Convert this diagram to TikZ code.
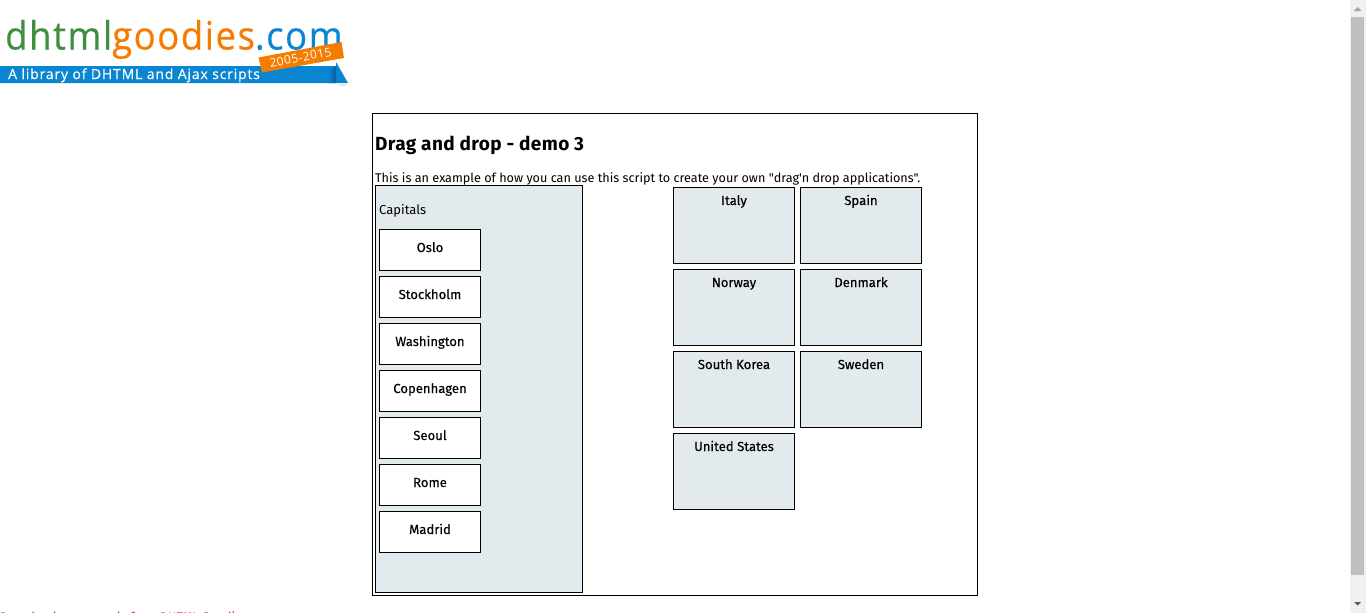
\documentclass[tikz,border=0pt]{standalone}
\usepackage{fontspec}
\setmainfont{Fira Sans}[Ligatures=TeXOff]
\newfontfamily\logofont{Open Sans}
\definecolor{panel}{HTML}{E2EAED}
\definecolor{lgreen}{HTML}{3F8F3F}
\definecolor{lorange}{HTML}{F57C00}
\definecolor{lblue}{HTML}{0A85D1}
\tikzset{x=1pt,y=-1pt,
 box/.style={draw=black,line width=1pt,anchor=north west,inner sep=0pt,outer sep=0pt},
 capbox/.style={box,fill=white,minimum width=101pt,minimum height=41pt},
 countrybox/.style={box,fill=panel,minimum width=121pt,minimum height=76pt},
 txt/.style={font=\fontsize{12.65}{15}\selectfont,text=black,inner sep=0pt},
 boldtxt/.style={txt,anchor=base,font=\fontsize{13.1}{15}\selectfont\addfontfeature{FakeBold=0.25}},
}
\begin{document}
\begin{tikzpicture}
\useasboundingbox (0,0) rectangle (1366,613);
\fill[white] (0,0) rectangle (1366,613);
% scrollbar
\fill[black!6] (1350,0) rectangle (1366,613);
\fill[black!25] (1351,17) rectangle (1364,575);
\fill[black!35] (1353.5,11) -- (1357.5,7) -- (1361.5,11) -- cycle;
\fill[black!65] (1354,602) -- (1361,602) -- (1357.5,605.5) -- cycle;
% logo
\node[anchor=base west,inner sep=0pt,font=\logofont\fontsize{39}{40}\selectfont\addfontfeature{LetterSpace=4,FakeStretch=0.935,FakeBold=0.5}] (logoa) at (5,49.5) {\textcolor{lgreen}{dhtml}\textcolor{lorange}{goodies}\textcolor{lblue}{.com}};
\fill[lblue] (0,66) -- (336,66) -- (336,62) -- (348,83) -- (0,83) -- cycle;
\shade[left color=lblue,right color=black!30!lblue] (328,72) -- (336,66) -- (336,83) -- (328,83) -- cycle;
\fill[black!8] (336,83) -- (348,83) -- (346,86) -- (338,86) -- cycle;
\fill[lorange] (258.5,57.5) -- (341.5,42) -- (344,58) -- (262,72.5) -- cycle;
\node[anchor=base west,inner sep=0pt,text=white,font=\logofont\fontsize{14}{15}\selectfont\addfontfeature{LetterSpace=5.8,FakeBold=0.4}] (logob) at (8,79) {A library of DHTML and Ajax scripts};
\node[anchor=center,inner sep=0pt,text=white,rotate=10.5,font=\logofont\fontsize{12}{14}\selectfont\addfontfeature{LetterSpace=4}] (logoc) at (300.5,57.5) {2005-2015};
% main frame
\node[box,minimum width=605pt,minimum height=482pt] (main) at (372.5,113.5) {};
\node[anchor=base west,inner sep=0pt,font=\bfseries\fontsize{19}{21}\selectfont\addfontfeature{LetterSpace=2}] (title) at (375,150) {Drag and drop - demo 3};
\node[anchor=base west,txt] (intro) at (375,182) {This is an example of how you can use this script to create your own "drag'n drop applications".};
\node[box,fill=panel,minimum width=207pt,minimum height=407pt] (capitals) at (375.5,185.5) {};
\node[anchor=base west,txt,font=\fontsize{13}{15}\selectfont] (captitle) at (379,214) {Capitals};
\foreach \n/\t/\y in {a/Oslo/229.5,b/Stockholm/276.5,c/Washington/323.5,d/Copenhagen/370.5,e/Seoul/417.5,f/Rome/464.5,g/Madrid/511.5}{
  \node[capbox] (cap\n) at (379.5,\y) {};
  \node[boldtxt] (capt\n) at (430,\y+22.5) {\t};
}
\foreach \n/\t/\x/\y in {i/Italy/673.5/187.5,s/Spain/800.5/187.5,n/Norway/673.5/269.5,m/Denmark/800.5/269.5,k/South Korea/673.5/351.5,w/Sweden/800.5/351.5,u/United States/673.5/433.5}{
  \node[countrybox] (c\n) at (\x,\y) {};
  \node[boldtxt] (ct\n) at (\x+60.5,\y+17.5) {\t};
}
% footer sliver
\begin{scope}
\clip (0,608) rectangle (1366,613);
\node[anchor=base west,inner sep=0pt,text=red,font=\fontsize{12.4}{15}\selectfont] (foot) at (0,621.8) {Download source code from DHTML Goodies};
\end{scope}
\end{tikzpicture}
\end{document}
